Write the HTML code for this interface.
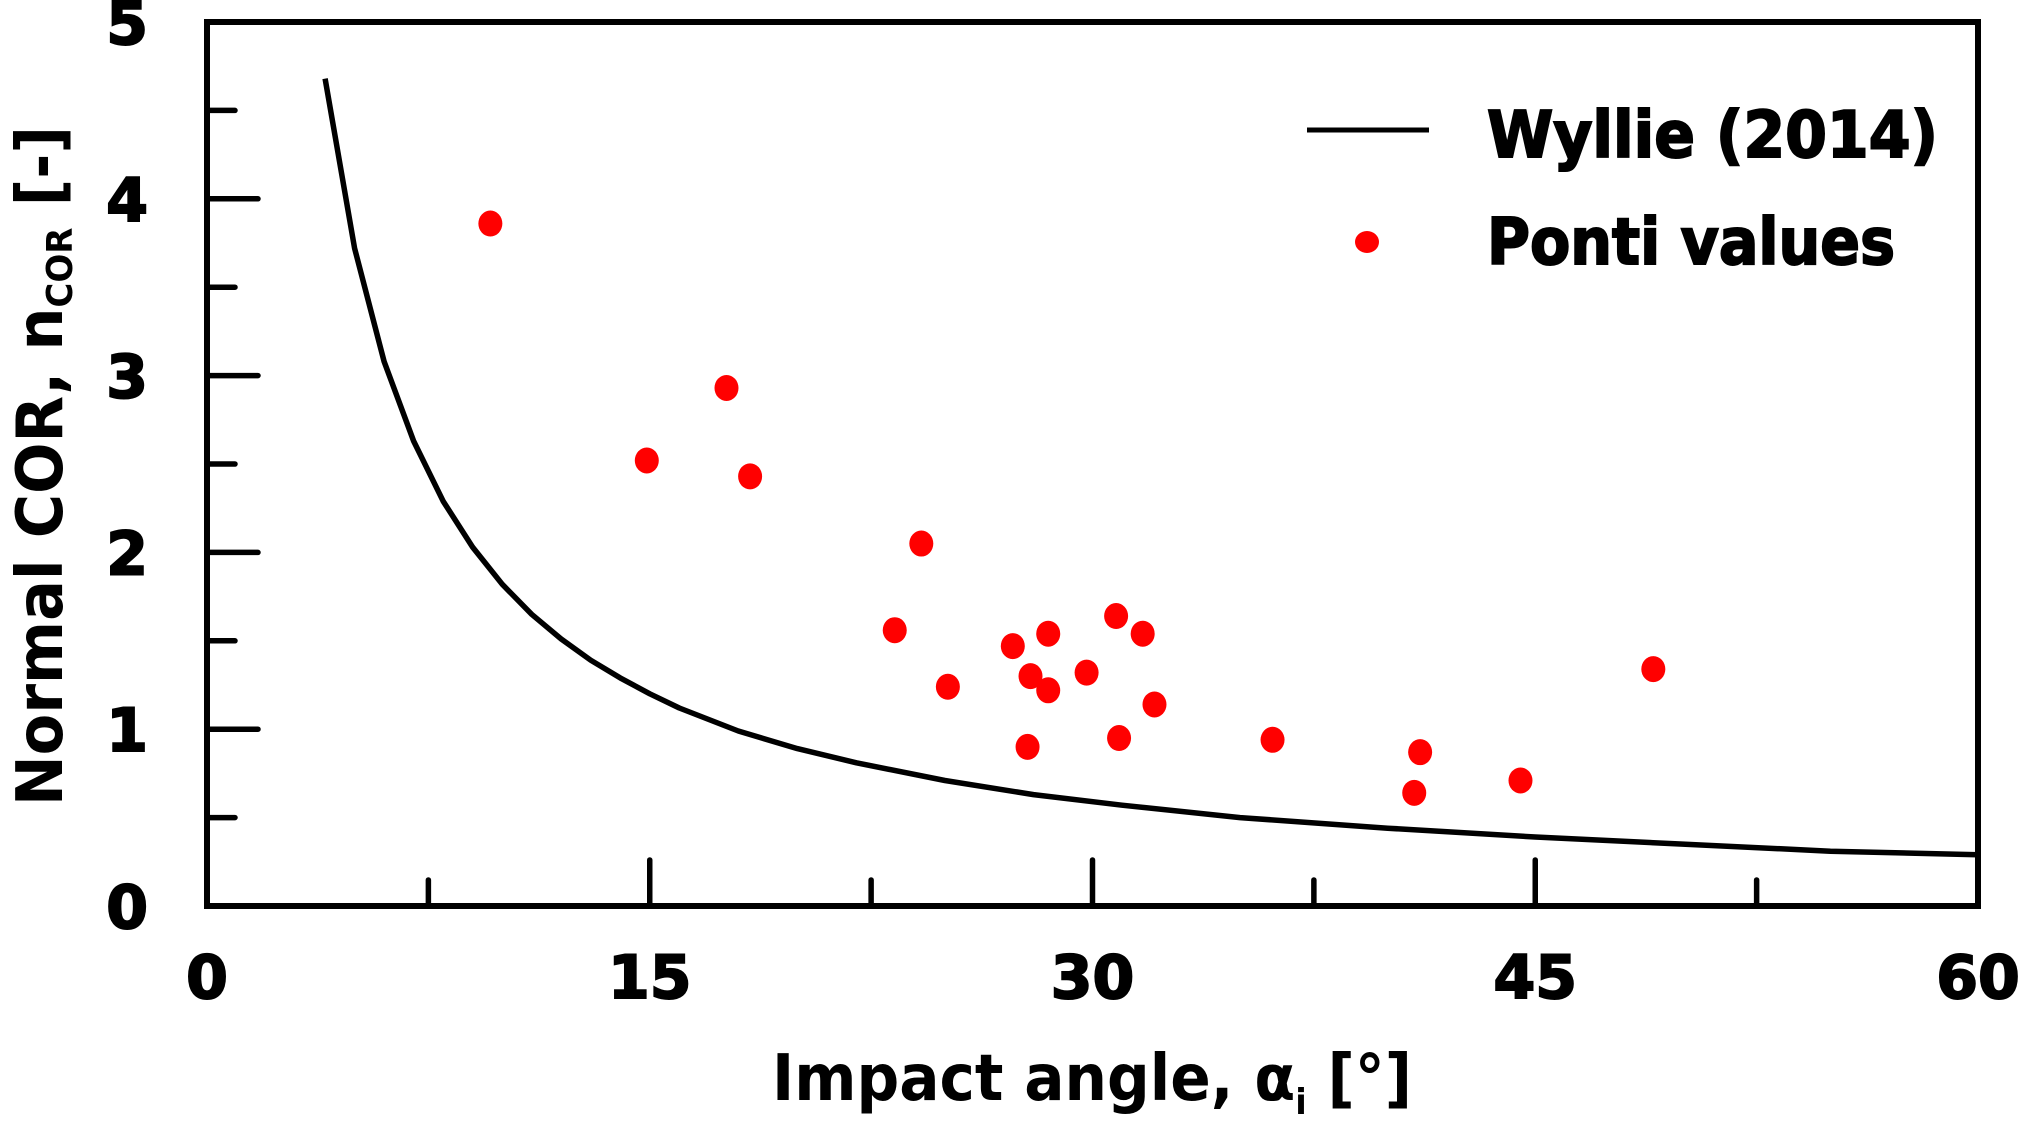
<!DOCTYPE html>
<html><head><meta charset="utf-8"><style>
html,body{margin:0;padding:0;background:#fff;}
svg{display:block;}
text{font-family:"DejaVu Sans","Liberation Sans",sans-serif;font-weight:bold;fill:#000;}
.heavy{stroke:#000;stroke-width:2;}
</style></head><body>
<svg id="chart" width="2019" height="1122" viewBox="0 0 2019 1122" xmlns="http://www.w3.org/2000/svg">
<g id="axes"></g>
<g id="curve"></g>
<g id="points"></g>
<g id="labels"></g>
<g id="legend">
  <line x1="1307" y1="130" x2="1429" y2="130" stroke="#000" stroke-width="5"/>
  <text class="heavy" x="1487" y="157" font-size="64" textLength="451" lengthAdjust="spacingAndGlyphs">Wyllie (2014)</text>
  <ellipse cx="1367" cy="242" rx="12" ry="11" fill="#ff0000"/>
  <text class="heavy" x="1487" y="264" font-size="64" textLength="408" lengthAdjust="spacingAndGlyphs">Ponti values</text>
</g>
</svg>
<script>
const xTicks = [0, 15, 30, 45, 60];
const yTicks = [0, 1, 2, 3, 4, 5];
const curveX = [4,5,6,7,8,9,10,11,12,13,14,15,16,18,20,22,25,28,31,35,40,45,50,55,60];
const curveY = [4.68,3.72,3.08,2.63,2.29,2.03,1.82,1.65,1.51,1.39,1.29,1.20,1.12,0.99,0.89,0.81,0.71,0.63,0.57,0.50,0.44,0.39,0.35,0.31,0.29];
const pointX = [9.6,17.6,14.9,18.4,24.2,23.3,25.1,27.3,27.9,28.5,28.5,27.8,29.8,30.8,31.7,30.9,32.1,36.1,41.1,40.9,44.5,49.0];
const pointY = [3.86,2.93,2.52,2.43,2.05,1.56,1.24,1.47,1.30,1.54,1.22,0.90,1.32,1.64,1.54,0.95,1.14,0.94,0.87,0.64,0.71,1.34];

const NS = "http://www.w3.org/2000/svg";
const L = 207, R = 1978, T = 22, B = 906;
const xs = v => L + (v - 0) / 60 * (R - L);
const ys = v => B - (v - 0) / 5 * (B - T);
function mk(tag, attrs, parent){const e=document.createElementNS(NS,tag);for(const k in attrs)e.setAttribute(k,attrs[k]);parent.appendChild(e);return e;}

const axes = document.getElementById('axes');
const frame = mk('rect',{x:L,y:T,width:R-L,height:B-T,fill:'none',stroke:'#000','stroke-width':6},axes);


for(let v=0.5; v<5; v+=0.5){
  const major = Math.abs(v-Math.round(v))<1e-6;
  const t = mk('line',{x1:L,x2:L+(major?51:28),y1:ys(v),y2:ys(v),stroke:'#000','stroke-width':5.5,'stroke-linecap':'round'},axes);
  
  
}
for(let v=7.5; v<60; v+=7.5){
  const major = Math.abs(v/15-Math.round(v/15))<1e-6;
  const t = mk('line',{x1:xs(v),x2:xs(v),y1:B,y2:B-(major?46:26),stroke:'#000','stroke-width':5.5,'stroke-linecap':'round'},axes);
  
  
}

const labels = document.getElementById('labels');
xTicks.forEach(v=>{
  const t = mk('text',{x:xs(v),y:998,'font-size':60,'text-anchor':'middle',class:'heavy'},labels);
  t.textContent = v;
  
  
});
yTicks.forEach(v=>{
  const t = mk('text',{x:148,y:ys(v)+22,'font-size':60,'text-anchor':'end',class:'heavy'},labels);
  t.textContent = v;
  
  
});
const xt = mk('text',{x:772,y:1100,'font-size':64,textLength:640,lengthAdjust:'spacingAndGlyphs'},labels);
xt.innerHTML = 'Impact angle, α<tspan font-size="36" dy="14">i</tspan><tspan dy="-14"> [°]</tspan>';


const yt = mk('text',{x:0,y:0,'font-size':64,transform:'translate(62,806) rotate(-90)',textLength:680,lengthAdjust:'spacingAndGlyphs'},labels);
yt.innerHTML = 'Normal COR, n<tspan font-size="36" dy="10">COR</tspan><tspan dy="-10"> [-]</tspan>';



const cg = document.getElementById('curve');
const pts = curveX.map((x,i)=>xs(x).toFixed(1)+','+ys(curveY[i]).toFixed(1)).join(' ');
const pl = mk('polyline',{points:pts,fill:'none',stroke:'#000','stroke-width':5.5,'stroke-linejoin':'round'},cg);



const pg = document.getElementById('points');
pointX.forEach((x,i)=>{
  const c = mk('ellipse',{cx:xs(x),cy:ys(pointY[i]),rx:12,ry:13,fill:'#ff0000'},pg);
  
  
});
</script>
</body></html>
